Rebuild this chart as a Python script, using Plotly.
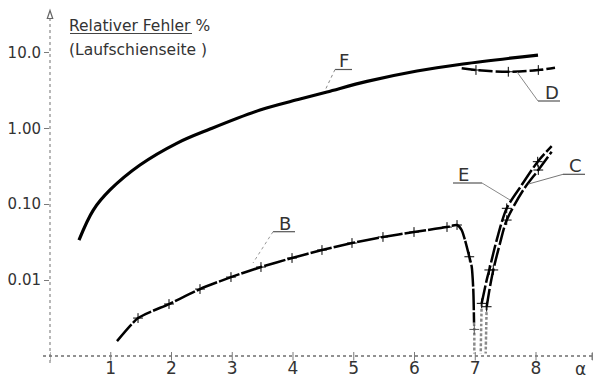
import plotly.graph_objects as go

# ---------------- data ----------------
x_ticks = [1, 2, 3, 4, 5, 6, 7, 8]
x_tick_text = ["1", "2", "3", "4", "5", "6", "7", "8"]
y_ticks = [0.01, 0.1, 1, 10]
y_tick_text = ["0.01", "0.10", "1.00", "10.0"]

f_x = [0.477, 0.713, 0.988, 1.481, 2.086, 2.634, 3.457, 4.115, 4.56, 5.218, 6.041, 6.798, 8.033]
f_y = [0.0337, 0.0838, 0.154, 0.328, 0.634, 0.977, 1.74, 2.43, 3.01, 4.15, 5.69, 7.03, 9.23]

b_x = [1.103, 1.449, 1.959, 2.469, 2.979, 3.473, 3.984, 4.477, 4.971, 5.481, 5.992, 6.535,
       6.70, 6.777, 6.831, 6.902, 6.942, 6.968, 6.98]
b_y = [0.00157, 0.00316, 0.00484, 0.00762, 0.01096, 0.01486, 0.01954, 0.0249, 0.0308, 0.0370,
       0.0430, 0.050, 0.0532, 0.0457, 0.0337, 0.0203, 0.0150, 0.0074, 0.00274]
b_mark_x = [1.449, 1.959, 2.469, 2.979, 3.473, 3.984, 4.477, 4.971, 5.481, 5.992, 6.535, 6.70, 6.902]
b_mark_y = [0.00316, 0.00484, 0.00762, 0.01096, 0.01486, 0.01954, 0.0249, 0.0308, 0.0370, 0.0430,
            0.050, 0.0532, 0.0203]
b_tail_x = [6.98, 6.984, 6.984]
b_tail_y = [0.00274, 0.00224, 0.00108]

e_x = [7.106, 7.188, 7.231, 7.353, 7.518, 7.765, 8.028, 8.258]
e_y = [0.00494, 0.0100, 0.0136, 0.0337, 0.0883, 0.179, 0.363, 0.583]
e_mark_x = [7.106, 7.231, 7.518, 8.028]
e_mark_y = [0.00494, 0.0136, 0.0883, 0.363]
e_tail_x = [7.106, 7.098, 7.09]
e_tail_y = [0.00494, 0.0025, 0.00108]

c_x = [7.188, 7.243, 7.297, 7.407, 7.518, 7.791, 8.038, 8.258]
c_y = [0.00446, 0.0082, 0.0136, 0.0305, 0.0618, 0.154, 0.282, 0.491]
c_mark_x = [7.188, 7.297, 7.518, 8.038]
c_mark_y = [0.00446, 0.0136, 0.0618, 0.282]
c_tail_x = [7.188, 7.18, 7.172]
c_tail_y = [0.00446, 0.0023, 0.00108]

d_x = [6.777, 7.012, 7.544, 8.038, 8.313]
d_y = [6.17, 5.86, 5.56, 5.86, 6.28]
d_mark_x = [7.012, 7.544, 8.038]
d_mark_y = [5.86, 5.56, 5.86]

# ---------------- layout geometry ----------------
# the page body has an 8px margin, so the figure is drawn 8px smaller and
# all screen positions below are given in window pixels
OFF = 8
W, H = 601 - OFF, 381 - OFF
ML, MR, MT, MB = 50 - OFF, 3, 8 - OFF, 25
PW, PH = W - ML - MR, H - MT - MB


def px(x):
    return (x - OFF - ML) / PW


def py(y):
    return (H - MB - (y - OFF)) / PH


FONT = "DejaVu Sans"
TXT = "#333333"
AX = "#7a7a7a"

fig = go.Figure()


def curve(x, y, width, dash="solid", color="black", smooth=1.0):
    fig.add_trace(go.Scatter(x=x, y=y, mode="lines",
                             line=dict(color=color, width=width, dash=dash,
                                       shape="spline", smoothing=smooth),
                             hoverinfo="skip"))


def marks(x, y, color="black"):
    fig.add_trace(go.Scatter(x=x, y=y, mode="markers",
                             marker=dict(symbol="cross-thin", size=7,
                                         line=dict(color=color, width=1)),
                             hoverinfo="skip"))


curve(f_x, f_y, 3.2)
curve(b_x, b_y, 2.5, dash="22px,2px", smooth=0.6)
curve(b_tail_x, b_tail_y, 2.5, dash="3px,2px", color="#8a8a8a")
marks(b_mark_x, b_mark_y)
marks([b_tail_x[1]], [b_tail_y[1]], color="#555")
curve(e_x, e_y, 2.5, dash="18px,3px", smooth=0.8)
curve(e_tail_x, e_tail_y, 2.5, dash="3px,2px", color="#8a8a8a")
marks(e_mark_x, e_mark_y)
curve(c_x, c_y, 2.5, dash="18px,3px", smooth=0.8)
curve(c_tail_x, c_tail_y, 2.5, dash="3px,2px", color="#8a8a8a")
marks(c_mark_x, c_mark_y)
curve(d_x, d_y, 2.5, dash="14px,3px")
marks(d_mark_x, d_mark_y)

shapes = []


def seg(x0, y0, x1, y1, color=AX, width=1, dash="solid"):
    shapes.append(dict(type="line", xref="paper", yref="paper",
                       x0=px(x0), y0=py(y0), x1=px(x1), y1=py(y1),
                       line=dict(color=color, width=width, dash=dash)))


# axes
seg(50, 363, 50, 18.5, color="#9a9a9a", width=1.4, dash="dot")
seg(43, 356, 594, 356, color="#6e6e6e", width=1.6, dash="dot")
# x tick marks crossing the axis (at the axis' own tick values)
for v in [0] + x_ticks:
    shapes.append(dict(type="line", xref="x", yref="paper", x0=v, x1=v,
                       y0=py(352), y1=py(360.5), line=dict(color=AX, width=1)))
# y arrow (outline triangle)
shapes.append(dict(type="path", xref="paper", yref="paper",
                   path=f"M {px(50)} {py(10.5)} L {px(47.3)} {py(18.5)} L {px(52.7)} {py(18.5)} Z",
                   line=dict(color="#666", width=1.2), fillcolor="white"))
# x arrow (filled)
shapes.append(dict(type="path", xref="paper", yref="paper",
                   path=f"M {px(601)} {py(356.5)} L {px(592)} {py(352.8)} L {px(592)} {py(360)} Z",
                   line=dict(color="#777", width=1), fillcolor="#888"))

# title underline
seg(70, 33.5, 192, 33.5, color="#444", width=1.2)

# label underlines and leaders
seg(335, 69.5, 352, 69.5, color="#555", width=1.2)
seg(335, 69.5, 325, 90.5, color="#888", width=1, dash="dot")
seg(538, 101, 560, 101, color="#555", width=1.2)
seg(538, 101, 517, 72, color="#888", width=1)
seg(453, 183, 482, 183, color="#555", width=1.2)
seg(482, 183, 510, 200, color="#888", width=1)
seg(563, 174.3, 585, 174.3, color="#555", width=1.2)
seg(563, 174.3, 528.5, 184, color="#777", width=1)
seg(273, 231.7, 295, 231.7, color="#555", width=1.2)
seg(273, 231.7, 253, 263, color="#999", width=1, dash="dot")

annotations = []


def label(text, cx, cy, size=18, anchor="center"):
    annotations.append(dict(text=text, xref="paper", yref="paper",
                            x=px(cx), y=py(cy), xanchor=anchor, yanchor="middle",
                            borderpad=0,
                            showarrow=False, font=dict(family=FONT, size=size, color=TXT)))


label("Relativer Fehler %", 68, 25.5, size=15.5, anchor="left")
label("(Laufschienseite )", 68, 50, size=15.5, anchor="left")
label("F", 344, 60)
label("D", 552, 92)
label("E", 463, 174.5)
label("C", 575, 165.5)
label("B", 285, 223.5)
label("α", 580, 368.5, size=17)

fig.update_layout(
    width=W, height=H,
    margin=dict(l=ML, r=MR, t=MT, b=MB, pad=0, autoexpand=False),
    paper_bgcolor="white", plot_bgcolor="white",
    showlegend=False,
    shapes=shapes, annotations=annotations,
    xaxis=dict(range=[0, PW / 60.75], showgrid=False, zeroline=False, showline=False,
               automargin=False,
               tickmode="array", tickvals=x_ticks, ticktext=x_tick_text,
               ticks="", ticklen=0,
               tickfont=dict(family=FONT, size=17, color=TXT)),
    yaxis=dict(type="log", range=[-3.0, 1.585], showgrid=False, zeroline=False, showline=False,
               automargin=False,
               tickmode="array", tickvals=y_ticks, ticktext=y_tick_text,
               ticks="outside", ticklen=5, tickwidth=1, tickcolor=AX,
               tickfont=dict(family=FONT, size=15, color=TXT)),
)

fig.write_html("out.html")
